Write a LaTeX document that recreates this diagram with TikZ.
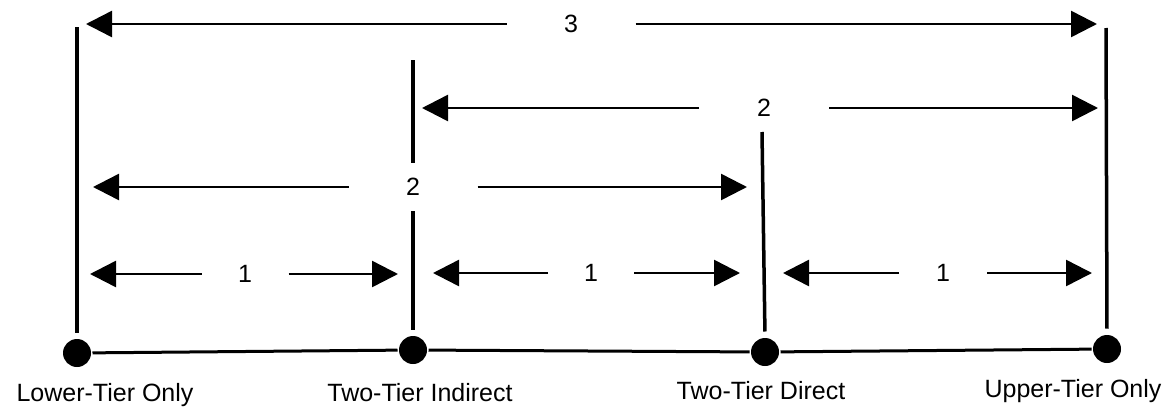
\documentclass[tikz,border=0pt]{standalone}
\usepackage{fontspec}
\setmainfont{Liberation Sans}
\usetikzlibrary{arrows.meta}

\begin{document}
\begin{tikzpicture}[x=1pt,y=-1pt,line width=3pt,>={Triangle[length=26pt,width=26pt]},font=\fontsize{25}{30}\selectfont]
		\tikzstyle{tier}=[circle,fill=black,inner sep=0pt,minimum size=28pt]
		\tikzstyle{postline}=[line width=3.5pt,shorten <=5pt]
		\tikzstyle{spanarrow}=[->,line width=2.5pt]
		\tikzstyle{spanlabel}=[inner sep=0pt]
		\tikzstyle{tierlabel}=[anchor=base,inner sep=0pt]
		\useasboundingbox (0,0) rectangle (1169,407);
		% tiers on the base line
		\node[tier] (L) at (77,353) {};
		\node[tier] (I) at (413,350) {};
		\node[tier] (D) at (765,352) {};
		\node[tier] (U) at (1107,349) {};
		\draw (L) -- (I) -- (D) -- (U);
		\node[tierlabel] (Lname) at (105,401) {Lower-Tier Only};
		\node[tierlabel] (Iname) at (420,401) {Two-Tier Indirect};
		\node[tierlabel] (Dname) at (761,399) {Two-Tier Direct};
		\node[tierlabel] (Uname) at (1073,397) {Upper-Tier Only};
		% vertical posts
		\coordinate (Ltop) at (77,27);
		\coordinate (Itop) at (413,60);
		\coordinate (Dtop) at (762,132);
		\coordinate (Utop) at (1106,28);
		\draw[postline] (L.north) -- (Ltop);
		\draw[postline] (I.north) -- (Itop);
		\draw[postline] (D.north) -- (Dtop);
		\draw[postline] (U.north) -- (Utop);
		% spans of distance 3
		\node[spanlabel,minimum width=126pt] (s3) at (571,24) {3};
		\coordinate (s3l) at (86,24);
		\coordinate (s3r) at (1097,24);
		\draw[spanarrow] (s3.west) -- (s3l);
		\draw[spanarrow] (s3.east) -- (s3r);
		% spans of distance 2
		\node[spanlabel,minimum width=127pt] (s2a) at (764,108) {2};
		\coordinate (s2al) at (422,108);
		\coordinate (s2ar) at (1098,108);
		\draw[spanarrow] (s2a.west) -- (s2al);
		\draw[spanarrow] (s2a.east) -- (s2ar);
		% this label breaks the post behind it
		\node[spanlabel,minimum width=126pt,minimum height=48pt,fill=white] (s2b) at (413,187) {2};
		\coordinate (s2bl) at (93,187);
		\coordinate (s2br) at (747,187);
		\draw[spanarrow] (s2b.west) -- (s2bl);
		\draw[spanarrow] (s2b.east) -- (s2br);
		% spans of distance 1
		\node[spanlabel,minimum width=84pt] (s1a) at (245,274) {1};
		\coordinate (s1al) at (90,274);
		\coordinate (s1ar) at (398,274);
		\draw[spanarrow] (s1a.west) -- (s1al);
		\draw[spanarrow] (s1a.east) -- (s1ar);
		\node[spanlabel,minimum width=83pt] (s1b) at (591,273) {1};
		\coordinate (s1bl) at (433,273);
		\coordinate (s1br) at (740,273);
		\draw[spanarrow] (s1b.west) -- (s1bl);
		\draw[spanarrow] (s1b.east) -- (s1br);
		\node[spanlabel,minimum width=85pt] (s1c) at (943,273) {1};
		\coordinate (s1cl) at (783,273);
		\coordinate (s1cr) at (1092,273);
		\draw[spanarrow] (s1c.west) -- (s1cl);
		\draw[spanarrow] (s1c.east) -- (s1cr);
\end{tikzpicture}
\end{document}
